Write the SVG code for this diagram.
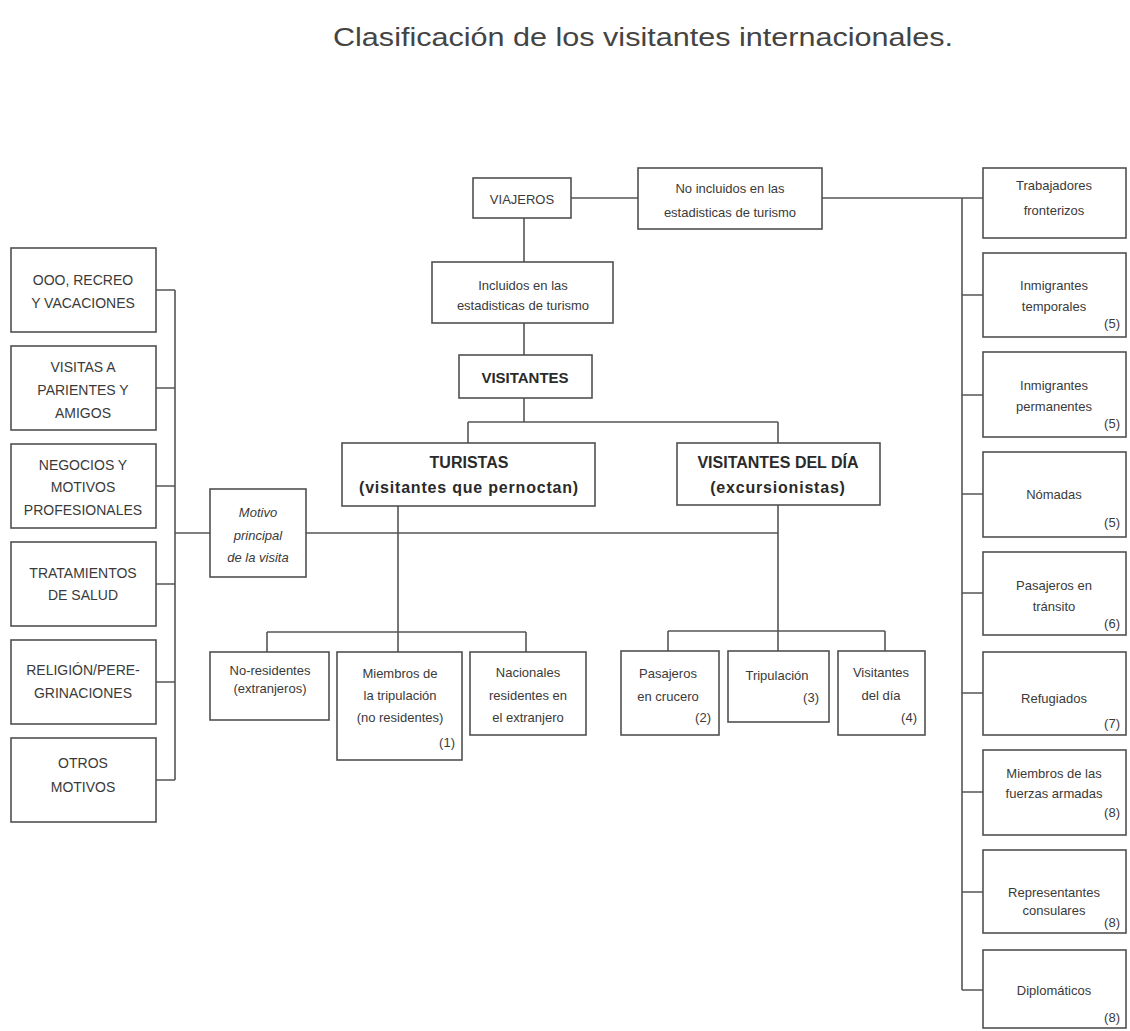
<svg xmlns="http://www.w3.org/2000/svg" width="1130" height="1031" viewBox="0 0 1130 1031">
<style>
.bg{fill:#ffffff}
.box{fill:#ffffff;stroke:#505050;stroke-width:1.6}
.ln{fill:none;stroke:#555555;stroke-width:1.6}
text{font-family:"Liberation Sans",Arial,sans-serif;fill:#3a3a3a}
.t{font-size:13px;text-anchor:middle}
.i{font-size:13px;text-anchor:middle;font-style:italic}
.c{font-size:14px;text-anchor:middle}
.b{font-size:16px;font-weight:bold;text-anchor:middle;fill:#2a2a2a}
.n{font-size:13px;text-anchor:end}
.title{font-size:26px;fill:#444444}
</style>
<rect class="bg" x="0" y="0" width="1130" height="1031"/>
<text class="title" x="333" y="46" textLength="620" lengthAdjust="spacingAndGlyphs">Clasificación de los visitantes internacionales.</text>

<g id="connectors">
<path class="ln" d="M571 198 H638 M822 198 H983 M962 198 V990"/>
<path class="ln" d="M962 295 H983 M962 395 H983 M962 494 H983 M962 593 H983 M962 693 H983 M962 792 H983 M962 892 H983 M962 990 H983"/>
<path class="ln" d="M524 218 V262 M524 323 V355 M524 398 V422 M468 422 H778 M468 422 V443 M778 422 V443"/>
<path class="ln" d="M398 506 V652 M778 505 V651 M306 533 H778 M175 533 H210"/>
<path class="ln" d="M175 290 V780 M156 290 H175 M156 388 H175 M156 486 H175 M156 584 H175 M156 682 H175 M156 780 H175"/>
<path class="ln" d="M267 632 H526 M267 632 V652 M526 632 V652"/>
<path class="ln" d="M668 631 H885 M668 631 V651 M885 631 V651"/>
</g>

<g id="viajeros"><rect class="box" x="473" y="178" width="98" height="40"/><text class="t" x="522" y="204">VIAJEROS</text></g>
<g id="no-incluidos"><rect class="box" x="638" y="168" width="184" height="61"/><text class="t" x="730" y="193">No incluidos en las</text><text class="t" x="730" y="217">estadisticas de turismo</text></g>
<g id="incluidos"><rect class="box" x="432" y="262" width="181" height="61"/><text class="t" x="523" y="290">Incluidos en las</text><text class="t" x="523" y="310">estadisticas de turismo</text></g>
<g id="visitantes"><rect class="box" x="459" y="355" width="133" height="43"/><text class="b" x="525" y="383" style="font-size:15px">VISITANTES</text></g>
<g id="turistas"><rect class="box" x="342" y="443" width="253" height="63"/><text class="b" x="469" y="468">TURISTAS</text><text class="b" x="469" y="493" letter-spacing="0.8">(visitantes que pernoctan)</text></g>
<g id="visitantes-dia"><rect class="box" x="677" y="443" width="203" height="62"/><text class="b" x="778" y="468">VISITANTES DEL DÍA</text><text class="b" x="778" y="493" letter-spacing="0.8">(excursionistas)</text></g>
<g id="motivo"><rect class="box" x="210" y="489" width="96" height="88"/><text class="i" x="258" y="517">Motivo</text><text class="i" x="258" y="540">principal</text><text class="i" x="258" y="562">de la visita</text></g>

<g id="ocio"><rect class="box" x="11" y="248" width="145" height="84"/><text class="c" x="83" y="285">OOO, RECREO</text><text class="c" x="83" y="308">Y VACACIONES</text></g>
<g id="visitas"><rect class="box" x="11" y="346" width="145" height="84"/><text class="c" x="83" y="372">VISITAS A</text><text class="c" x="83" y="395">PARIENTES Y</text><text class="c" x="83" y="418">AMIGOS</text></g>
<g id="negocios"><rect class="box" x="11" y="444" width="145" height="84"/><text class="c" x="83" y="470">NEGOCIOS Y</text><text class="c" x="83" y="492">MOTIVOS</text><text class="c" x="83" y="515">PROFESIONALES</text></g>
<g id="salud"><rect class="box" x="11" y="542" width="145" height="84"/><text class="c" x="83" y="578">TRATAMIENTOS</text><text class="c" x="83" y="600">DE SALUD</text></g>
<g id="religion"><rect class="box" x="11" y="640" width="145" height="84"/><text class="c" x="83" y="675">RELIGIÓN/PERE-</text><text class="c" x="83" y="698">GRINACIONES</text></g>
<g id="otros"><rect class="box" x="11" y="738" width="145" height="84"/><text class="c" x="83" y="768">OTROS</text><text class="c" x="83" y="792">MOTIVOS</text></g>

<g id="no-residentes"><rect class="box" x="210" y="652" width="119" height="68"/><text class="t" x="270" y="675">No-residentes</text><text class="t" x="270" y="693">(extranjeros)</text></g>
<g id="miembros-tripulacion"><rect class="box" x="337" y="652" width="125" height="108"/><text class="t" x="400" y="678">Miembros de</text><text class="t" x="400" y="700">la tripulación</text><text class="t" x="400" y="722">(no residentes)</text><text class="n" x="455" y="747">(1)</text></g>
<g id="nacionales"><rect class="box" x="470" y="652" width="116" height="83"/><text class="t" x="528" y="677">Nacionales</text><text class="t" x="528" y="700">residentes en</text><text class="t" x="528" y="722">el extranjero</text></g>
<g id="pasajeros-crucero"><rect class="box" x="621" y="651" width="98" height="84"/><text class="t" x="668" y="678">Pasajeros</text><text class="t" x="668" y="701">en crucero</text><text class="n" x="711" y="722">(2)</text></g>
<g id="tripulacion"><rect class="box" x="728" y="651" width="101" height="71"/><text class="t" x="777" y="680">Tripulación</text><text class="n" x="819" y="702">(3)</text></g>
<g id="visitantes-del-dia"><rect class="box" x="838" y="651" width="87" height="84"/><text class="t" x="881" y="677">Visitantes</text><text class="t" x="881" y="700">del día</text><text class="n" x="917" y="722">(4)</text></g>

<g id="trabajadores"><rect class="box" x="983" y="168" width="143" height="70"/><text class="t" x="1054" y="190">Trabajadores</text><text class="t" x="1054" y="215">fronterizos</text></g>
<g id="inm-temporales"><rect class="box" x="983" y="253" width="143" height="84"/><text class="t" x="1054" y="290">Inmigrantes</text><text class="t" x="1054" y="311">temporales</text><text class="n" x="1120" y="328">(5)</text></g>
<g id="inm-permanentes"><rect class="box" x="983" y="352" width="143" height="85"/><text class="t" x="1054" y="390">Inmigrantes</text><text class="t" x="1054" y="411">permanentes</text><text class="n" x="1120" y="428">(5)</text></g>
<g id="nomadas"><rect class="box" x="983" y="452" width="143" height="85"/><text class="t" x="1054" y="499">Nómadas</text><text class="n" x="1120" y="527">(5)</text></g>
<g id="transito"><rect class="box" x="983" y="552" width="143" height="83"/><text class="t" x="1054" y="590">Pasajeros en</text><text class="t" x="1054" y="611">tránsito</text><text class="n" x="1120" y="628">(6)</text></g>
<g id="refugiados"><rect class="box" x="983" y="652" width="143" height="83"/><text class="t" x="1054" y="703">Refugiados</text><text class="n" x="1120" y="728">(7)</text></g>
<g id="fuerzas-armadas"><rect class="box" x="983" y="750" width="143" height="85"/><text class="t" x="1054" y="778">Miembros de las</text><text class="t" x="1054" y="798">fuerzas armadas</text><text class="n" x="1120" y="817">(8)</text></g>
<g id="consulares"><rect class="box" x="983" y="850" width="143" height="83"/><text class="t" x="1054" y="897">Representantes</text><text class="t" x="1054" y="915">consulares</text><text class="n" x="1120" y="927">(8)</text></g>
<g id="diplomaticos"><rect class="box" x="983" y="950" width="143" height="78"/><text class="t" x="1054" y="995">Diplomáticos</text><text class="n" x="1120" y="1022">(8)</text></g>
</svg>
